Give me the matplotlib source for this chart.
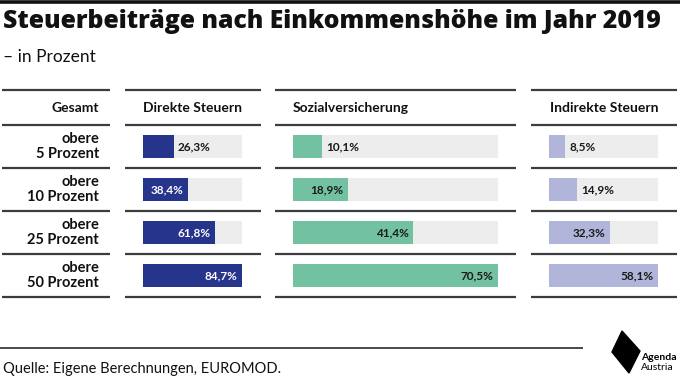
import matplotlib
matplotlib.use("Agg")
import matplotlib.pyplot as plt
from matplotlib.patches import Polygon

plt.rcParams["font.family"] = ["Lato", "DejaVu Sans"]

# data
groups = ["obere\n5 Prozent", "obere\n10 Prozent", "obere\n25 Prozent", "obere\n50 Prozent"]
direkte = [26.3, 38.4, 61.8, 84.7]
sozial = [10.1, 18.9, 41.4, 70.5]
indirekte = [8.5, 14.9, 32.3, 58.1]
headers = ["Gesamt", "Direkte Steuern", "Sozialversicherung", "Indirekte Steuern"]

W, H = 680, 380
fig = plt.figure(figsize=(W / 100, H / 100), dpi=100)

# layout overlay in pixel coordinates
lay = fig.add_axes([0, 0, 1, 1])
lay.set_xlim(0, W)
lay.set_ylim(H, 0)
lay.axis("off")

LINE = "#3c3c3c"
lay.plot([0, W], [2, 2], color="#111111", lw=2.6, solid_capstyle="butt")
lay.text(3, 22, "Steuerbeiträge nach Einkommenshöhe im Jahr 2019", fontsize=17.8,
         fontweight="heavy", family=["Open Sans", "Lato"], va="center", ha="left",
         color="#111111")
lay.text(3, 57, "– in Prozent", fontsize=12.5, va="center", ha="left", color="#111111")

row_lines = [90, 125, 168, 211, 254, 297]
col_spans = [(2, 110), (125, 261), (275, 516), (531, 677)]
for x0, x1 in col_spans:
    for y in row_lines:
        lay.plot([x0, x1], [y, y], color=LINE, lw=1.6, solid_capstyle="butt")

hdr_y = 107.5
hkw = dict(va="center", fontsize=10, fontweight="bold", color="#111111")
lay.text(99, hdr_y, headers[0], ha="right", **hkw)
lay.text(143, hdr_y, headers[1], ha="left", **hkw)
lay.text(293, hdr_y, headers[2], ha="left", **hkw)
lay.text(658, hdr_y, headers[3], ha="right", **hkw)

for i, g in enumerate(groups):
    yc = (row_lines[i + 1] + row_lines[i + 2]) / 2
    lay.text(99, yc, g, ha="right", va="center", fontsize=10.5, fontweight="bold",
             linespacing=1.05, color="#111111")

# footer
lay.plot([0, 583], [348, 348], color=LINE, lw=1.3, solid_capstyle="butt")
lay.text(3, 369, "Quelle: Eigene Berechnungen, EUROMOD.", fontsize=10.5, va="center",
         ha="left", color="#111111")
lay.add_patch(Polygon([(622, 331), (640, 351), (629, 373), (612, 352)],
                      closed=True, color="#000000"))
lay.text(641, 357, "Agenda", fontsize=7.5, fontweight="bold", va="center", ha="left")
lay.text(641, 368, "Austria", fontsize=7.5, va="center", ha="left")

# bar columns
cols = [
    (direkte, 143, 242, "#27348B", "white"),
    (sozial, 293, 498, "#72C2A2", "#1a1a1a"),
    (indirekte, 549, 658, "#B1B5DA", "#1a1a1a"),
]
top, bottom = row_lines[1], row_lines[-1]
for vals, x0, x1, color, tcol in cols:
    ax = fig.add_axes([x0 / W, 1 - bottom / H, (x1 - x0) / W, (bottom - top) / H])
    vmax = max(vals)
    ypos = list(range(len(vals)))
    ax.barh(ypos, [vmax] * len(vals), height=0.54, color="#EDEDED", lw=0)
    ax.barh(ypos, vals, height=0.54, color=color, lw=0)
    ax.set_xlim(0, vmax)
    ax.set_ylim(len(vals) - 0.5, -0.5)
    ax.axis("off")
    px_per = (x1 - x0) / vmax
    for y, v in zip(ypos, vals):
        lab = f"{v:.1f}%".replace(".", ",")
        if v * px_per > 42:
            ax.annotate(lab, (v, y), xytext=(-3, 0), textcoords="offset points",
                        ha="right", va="center", fontsize=8.5, fontweight="bold", color=tcol)
        else:
            ax.annotate(lab, (v, y), xytext=(3, 0), textcoords="offset points",
                        ha="left", va="center", fontsize=8.5, fontweight="bold", color="#1a1a1a")

fig.savefig("out.png", dpi=100)
